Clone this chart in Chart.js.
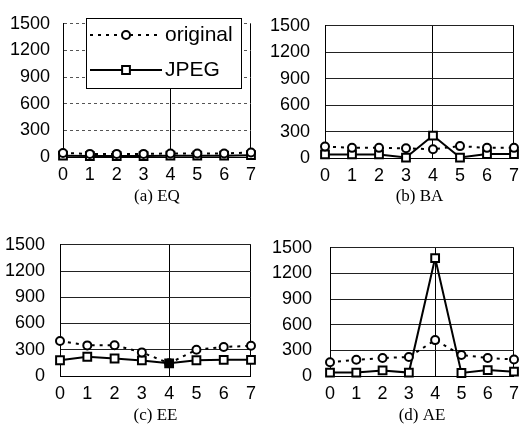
<!DOCTYPE html>
<html>
<head>
<meta charset="utf-8">
<script src="https://cdn.jsdelivr.net/npm/chart.js@4.4.0/dist/chart.umd.min.js"></script>
<style>
  body { margin: 0; background: #fff; }
  #wrap { position: relative; width: 526px; height: 437px; }
  canvas { position: absolute; }
</style>
</head>
<body>
<div id="wrap">
  <canvas id="chartEQ" width="263" height="218" style="left:0;top:0"></canvas>
  <canvas id="chartBA" width="263" height="218" style="left:263px;top:0"></canvas>
  <canvas id="chartEE" width="263" height="218" style="left:0;top:219px"></canvas>
  <canvas id="chartAE" width="263" height="218" style="left:263px;top:219px"></canvas>
</div>
<script>
// data
const xLabels = ['0', '1', '2', '3', '4', '5', '6', '7'];
const yTicks = [0, 300, 600, 900, 1200, 1500];
const seriesNames = ['original', 'JPEG'];

const eqOriginal = [45, 35, 35, 35, 40, 40, 40, 50];
const eqJpeg = [15, 10, 10, 10, 15, 15, 15, 20];
const baOriginal = [130, 115, 115, 110, 100, 135, 115, 115];
const baJpeg = [40, 40, 40, 5, 255, 5, 45, 45];
const eeOriginal = [400, 350, 352, 270, 145, 300, 332, 345];
const eeJpeg = [180, 220, 200, 178, 145, 180, 185, 185];
const aeOriginal = [160, 190, 210, 222, 420, 246, 211, 194];
const aeJpeg = [40, 40, 65, 40, 1380, 35, 70, 50];

Chart.defaults.font.family = '"Liberation Sans", Arial, sans-serif';
Chart.defaults.color = '#000';

// boxed legend drawn inside the plot (only panel a)
const legendBox = {
    id: 'legendBox',
    afterDatasetsDraw(chart, args, opts) {
        if (!opts.show) return;
        const ctx = chart.ctx;
        ctx.save();
        ctx.fillStyle = '#fff';
        ctx.fillRect(opts.x, opts.y, opts.w, opts.h);
        ctx.strokeStyle = '#000';
        ctx.lineWidth = 1;
        ctx.strokeRect(opts.x + 0.5, opts.y + 0.5, opts.w, opts.h);
        chart.data.datasets.forEach((ds, i) => {
            const cy = opts.y + 17 + i * 35;
            ctx.setLineDash(ds.borderDash || []);
            ctx.lineWidth = ds.borderWidth;
            ctx.beginPath();
            ctx.moveTo(opts.x + 4, cy);
            ctx.lineTo(opts.x + 76, cy);
            ctx.stroke();
            ctx.setLineDash([]);
            ctx.fillStyle = '#fff';
            ctx.lineWidth = ds.pointBorderWidth;
            const px = opts.x + 40;
            ctx.beginPath();
            if (ds.pointStyle === 'rect') {
                const s = ds.pointRadius * Math.SQRT1_2;
                ctx.rect(px - s, cy - s, 2 * s, 2 * s);
            } else {
                ctx.arc(px, cy, ds.pointRadius, 0, Math.PI * 2);
            }
            ctx.fill();
            ctx.stroke();
            ctx.fillStyle = '#000';
            ctx.font = '21px "Liberation Sans", Arial, sans-serif';
            ctx.textBaseline = 'middle';
            ctx.fillText(ds.label, opts.x + 79, cy);
        });
        ctx.restore();
    }
};

function makePanel(id, orig, jpeg, caption, lay) {
    const fill = lay.fill || '#fff';
    return new Chart(document.getElementById(id), {
        type: 'line',
        data: {
            labels: xLabels,
            datasets: [{
                label: seriesNames[0],
                data: orig,
                borderColor: '#000',
                borderWidth: 2,
                borderDash: [3, 5],
                pointStyle: 'circle',
                pointRadius: 4,
                pointBorderWidth: 2,
                pointBorderColor: '#000',
                pointBackgroundColor: fill,
                clip: false
            }, {
                label: seriesNames[1],
                data: jpeg,
                borderColor: '#000',
                borderWidth: 2,
                pointStyle: 'rect',
                pointRadius: 5.5,
                pointBorderWidth: 2,
                pointBorderColor: '#000',
                pointBackgroundColor: fill,
                clip: false
            }]
        },
        options: {
            responsive: false,
            animation: false,
            layout: { padding: { left: 0, top: lay.top, right: lay.right, bottom: 0 } },
            plugins: {
                legend: { display: false },
                tooltip: { enabled: false },
                legendBox: { show: !!lay.legend, x: 86, y: 18, w: 155, h: 70 }
            },
            scales: {
                x: {
                    offset: false,
                    grid: {
                        color: c => (c.index === 0 || c.index === 4 || c.index === 7) ? '#000' : 'rgba(0,0,0,0)',
                        drawTicks: false
                    },
                    border: { color: '#000' },
                    ticks: { padding: 7, font: { size: 18 }, maxRotation: 0, autoSkip: false },
                    title: {
                        display: true,
                        text: caption,
                        font: { family: '"Liberation Serif", "Times New Roman", serif', size: 17 },
                        padding: { top: 0, bottom: 11 }
                    },
                    afterFit: s => { s.height = lay.xh; }
                },
                y: {
                    min: 0,
                    max: 1500,
                    afterBuildTicks: s => { s.ticks = yTicks.map(v => ({ value: v })); },
                    grid: { color: lay.gridColor || '#222', drawTicks: false },
                    border: { color: '#000', dash: lay.dash || [] },
                    ticks: { padding: lay.ypad, font: { size: 18 }, callback: v => String(v) },
                    afterFit: s => { s.width = lay.left; }
                }
            }
        },
        plugins: [legendBox]
    });
}

const eeFill = ['#fff', '#fff', '#fff', '#fff', '#000', '#fff', '#fff', '#fff'];

makePanel('chartEQ', eqOriginal, eqJpeg, '(a) EQ',
    { left: 63, right: 6, top: 10, xh: 61, ypad: 13, legend: true, dash: [3, 3], gridColor: '#555' });
makePanel('chartBA', baOriginal, baJpeg, '(b) BA',
    { left: 62, right: 6, top: 11, xh: 60, ypad: 15 });
makePanel('chartEE', eeOriginal, eeJpeg, '(c) EE',
    { left: 60, right: 7, top: 11, xh: 61, ypad: 15, fill: eeFill });
makePanel('chartAE', aeOriginal, aeJpeg, '(d) AE',
    { left: 67, right: 6, top: 11, xh: 61, ypad: 18 });
</script>
</body>
</html>
